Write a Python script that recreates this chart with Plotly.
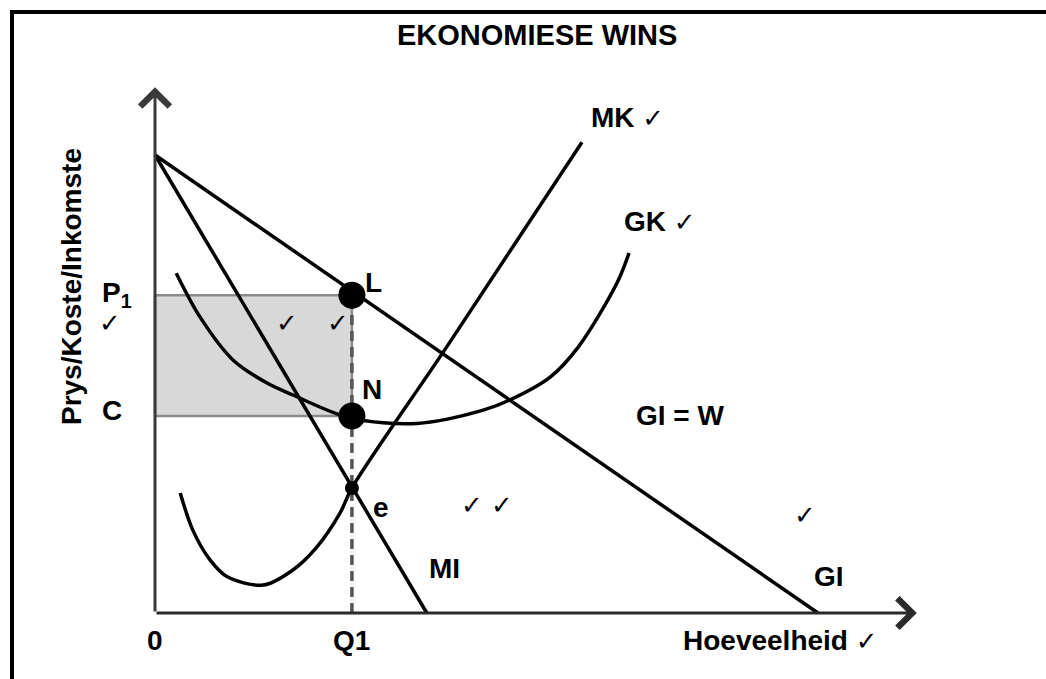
import plotly.graph_objects as go

# ---------------- data (economic units) ----------------
# Demand / average revenue (GI) line end points
gi_q = [0.0, 10.0]
gi_p = [10.0, 0.0]
# Marginal revenue (MI)
mi_q = [0.0, 4.10]
mi_p = [10.0, 0.0]
# Marginal cost (MK)
mk_q = [0.38, 0.57, 0.83, 1.09, 1.63, 2.08, 2.44, 2.79, 2.97, 4.40, 6.44]
mk_p = [2.62, 1.81, 1.16, 0.79, 0.61, 0.94, 1.44, 2.18, 2.73, 5.81, 10.28]
# Average cost (GK)
gk_q = [0.32, 0.68, 1.18, 1.69, 2.08, 2.94, 3.95, 4.95, 5.35, 5.96, 6.38, 6.97, 7.15]
gk_p = [7.42, 6.46, 5.52, 5.02, 4.76, 4.26, 4.14, 4.43, 4.65, 5.15, 5.80, 7.21, 7.86]
# Key values
Q1 = 2.97
P1 = 6.94
C = 4.30
E_P = 2.73
AXIS_X_MAX = 11.49
AXIS_Y_MAX = 11.48

# ---------------- figure ----------------
W, H = 1046, 679
x_range = [-2.338, 13.439]
y_range = [-1.441, 13.384]

fig = go.Figure()

# shaded profit rectangle
fig.add_trace(go.Scatter(
    x=[0, Q1, Q1, 0, 0], y=[C, C, P1, P1, C],
    mode="lines", fill="toself", fillcolor="#d8d8d8",
    line=dict(color="#8a8a8a", width=2.5), hoverinfo="skip"))

line_style = dict(color="black", width=3.5)
fig.add_trace(go.Scatter(x=gi_q, y=gi_p, mode="lines", line=line_style))
fig.add_trace(go.Scatter(x=mi_q, y=mi_p, mode="lines", line=line_style))
fig.add_trace(go.Scatter(x=mk_q, y=mk_p, mode="lines",
                         line=dict(color="black", width=3.5, shape="spline", smoothing=0.9)))
fig.add_trace(go.Scatter(x=gk_q, y=gk_p, mode="lines",
                         line=dict(color="black", width=3.5, shape="spline", smoothing=0.9)))

# dashed vertical at Q1
fig.add_trace(go.Scatter(x=[Q1, Q1], y=[0, P1], mode="lines",
                         line=dict(color="#555555", width=3.5, dash="10px,6px")))

# points L, N, e
fig.add_trace(go.Scatter(x=[Q1, Q1], y=[P1, C], mode="markers",
                         marker=dict(color="black", size=27)))
fig.add_trace(go.Scatter(x=[Q1], y=[E_P], mode="markers",
                         marker=dict(color="black", size=14)))

# axes with arrows
ann = []
ann.append(dict(x=0, y=AXIS_Y_MAX, ax=0, ay=0, xref="x", yref="y", axref="x", ayref="y",
                showarrow=True, arrowhead=4, arrowsize=1.9, arrowwidth=3,
                arrowcolor="#3a3a3a", text=""))
ann.append(dict(x=AXIS_X_MAX, y=0, ax=0, ay=0, xref="x", yref="y", axref="x", ayref="y",
                showarrow=True, arrowhead=4, arrowsize=1.9, arrowwidth=3,
                arrowcolor="#2a2a2a", text=""))

FS = 28
BOLD = dict(family="Liberation Sans, Arial, sans-serif", size=FS, color="black")
CHK = dict(family="DejaVu Sans, sans-serif", size=26, color="black")
CK = "<span style='font-family:DejaVu Sans;font-size:26px;font-weight:normal'>✓</span>"


def lab(x, y, text, font=BOLD, **kw):
    d = dict(x=x, y=y, xref="x", yref="y", text=text, showarrow=False, font=font,
             xanchor="center", yanchor="middle")
    d.update(kw)
    ann.append(d)


lab(7.13, 10.81, "<b>MK</b> " + CK)
lab(7.62, 8.54, "<b>GK</b> " + CK)
lab(Q1 + 0.33, P1 + 0.27, "<b>L</b>")
lab(Q1 + 0.30, C + 0.57, "<b>N</b>")
lab(7.92, 4.32, "<b>GI = W</b>")
lab(Q1 + 0.44, E_P - 0.42, "<b>e</b>")
lab(5.01, 2.36, "✓ ✓", font=CHK)
lab(4.36, 0.98, "<b>MI</b>")
lab(9.80, 2.14, "✓", font=CHK)
lab(10.17, 0.79, "<b>GI</b>")
lab(0, -0.61, "<b>0</b>")
lab(Q1, -0.61, "<b>Q1</b>")
lab(9.43, -0.61, "<b>Hoeveelheid</b> " + CK)
lab(-0.57, P1 + 0.02, "<b>P<sub>1</sub></b>")
lab(-0.68, P1 - 0.61, "✓", font=CHK)
lab(-0.65, C + 0.13, "<b>C</b>")
lab(-1.25, 7.12, "<b>Prys/Koste/Inkomste</b>", textangle=-90)
lab(1.99, P1 - 0.61, "✓", font=CHK)
lab(2.76, P1 - 0.61, "✓", font=CHK)

ann.append(dict(x=0.513, y=1 - 35 / H, xref="paper", yref="paper", showarrow=False,
                xanchor="center", yanchor="middle",
                text="<b>EKONOMIESE WINS</b>", font=dict(BOLD, size=29)))

shapes = [
    dict(type="line", xref="paper", yref="paper", x0=10 / W, x1=1, y0=1 - 12 / H, y1=1 - 12 / H,
         line=dict(color="black", width=4)),
    dict(type="line", xref="paper", yref="paper", x0=12 / W, x1=12 / W, y0=0, y1=1 - 12 / H,
         line=dict(color="black", width=4)),
]

fig.update_layout(
    width=W, height=H, margin=dict(l=0, r=0, t=0, b=0),
    paper_bgcolor="white", plot_bgcolor="white", showlegend=False,
    xaxis=dict(range=x_range, visible=False, fixedrange=True),
    yaxis=dict(range=y_range, visible=False, fixedrange=True),
    annotations=ann, shapes=shapes,
)

fig.write_html("out.html", config={"displayModeBar": False},
               post_script="document.body.style.margin='0px';document.body.style.overflow='hidden';")
